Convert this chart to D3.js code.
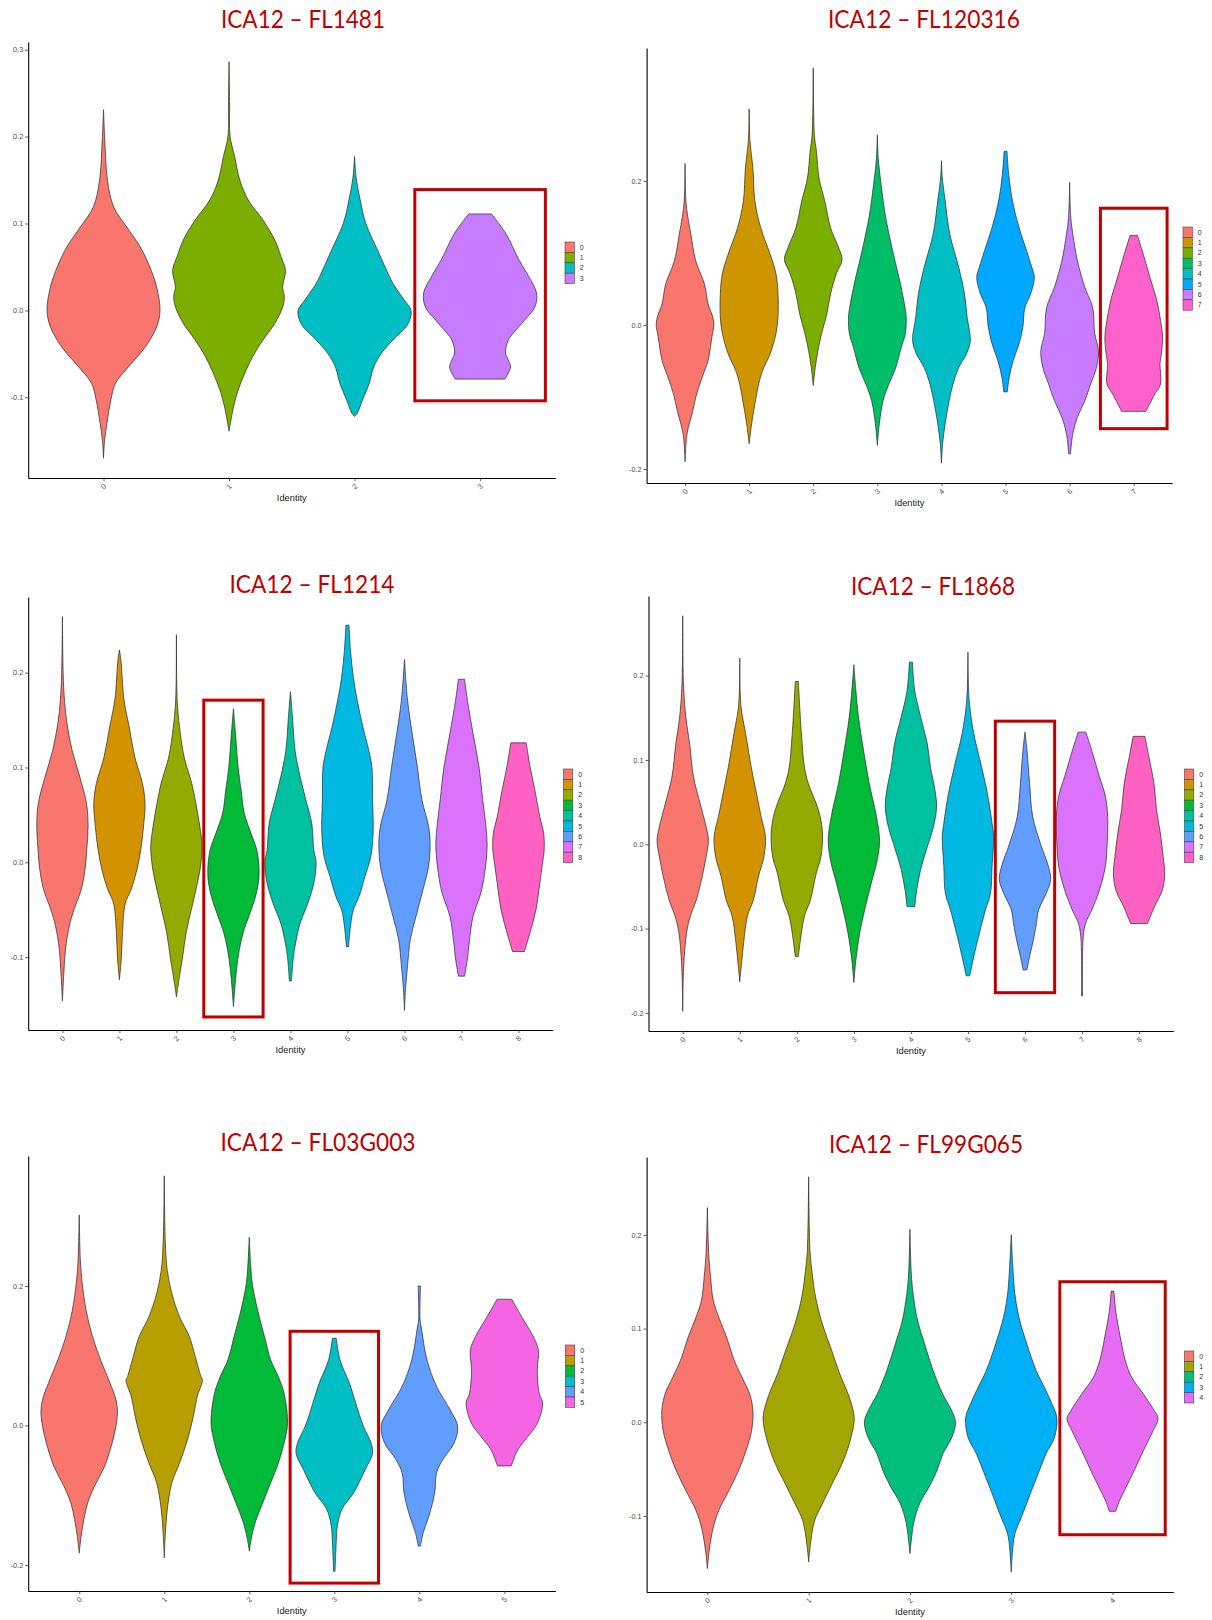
<!DOCTYPE html>
<html>
<head>
<meta charset="utf-8">
<script src="https://cdn.jsdelivr.net/npm/d3@7"></script>
<style>
body { margin: 0; background: #fff; }
</style>
</head>
<body>
<div id="chart"></div>
<script>

// panel titles, clusters and tick spacing
var titles = ["ICA12 – FL1481", "ICA12 – FL120316", "ICA12 – FL1214", "ICA12 – FL1868", "ICA12 – FL03G003", "ICA12 – FL99G065"];
var clusters = [
	["0", "1", "2", "3"],
	["0", "1", "2", "3", "4", "5", "6", "7"],
	["0", "1", "2", "3", "4", "5", "6", "7", "8"],
	["0", "1", "2", "3", "4", "5", "6", "7", "8"],
	["0", "1", "2", "3", "4", "5"],
	["0", "1", "2", "3", "4"]
];
var yTickStep = [0.1, 0.2, 0.1, 0.1, 0.2, 0.1];

// red box: which cluster, and the value span it covers
var boxCluster = [3, 7, 3, 6, 3, 4];
var boxTop = [0.139, 0.162, 0.171, 0.146, 0.135, 0.150];
var boxBottom = [-0.104, -0.144, -0.163, -0.176, -0.226, -0.120];

// violin outlines: [value, half width relative to the widest point]
var fl1481 = [
	[[0.231,0],[0.20,0.02],[0.15,0.07],[0.119,0.18],[0.096,0.41],[0.073,0.65],[0.05,0.82],[0.027,0.94],[0.0,1.0],[-0.019,0.94],[-0.042,0.74],[-0.065,0.44],[-0.084,0.21],[-0.103,0.13],[-0.13,0.06],[-0.149,0.02],[-0.17,0]],
	[[0.286,0],[0.24,0.01],[0.2,0.02],[0.177,0.1],[0.15,0.19],[0.127,0.34],[0.104,0.6],[0.081,0.81],[0.062,0.92],[0.046,1.0],[0.027,0.95],[0.016,0.98],[0.004,0.95],[-0.015,0.81],[-0.034,0.6],[-0.053,0.42],[-0.072,0.28],[-0.092,0.16],[-0.111,0.08],[-0.139,0]],
	[[0.177,0],[0.152,0.03],[0.127,0.1],[0.1,0.2],[0.069,0.41],[0.05,0.54],[0.031,0.68],[0.012,0.88],[0.0,1.0],[-0.015,0.95],[-0.034,0.68],[-0.049,0.48],[-0.065,0.34],[-0.084,0.26],[-0.103,0.14],[-0.118,0.05],[-0.122,0]],
	[[0.111,0.2],[0.089,0.45],[0.058,0.69],[0.039,0.86],[0.02,1.0],[0.004,0.97],[-0.011,0.79],[-0.026,0.59],[-0.034,0.5],[-0.049,0.45],[-0.057,0.5],[-0.065,0.54],[-0.072,0.5],[-0.079,0.44]]
];
var fl120316 = [
	[[0.224,0],[0.172,0.03],[0.149,0.1],[0.126,0.2],[0.089,0.37],[0.057,0.67],[0.029,0.8],[0.011,0.96],[0,1.0],[-0.017,0.93],[-0.049,0.8],[-0.072,0.6],[-0.096,0.4],[-0.119,0.27],[-0.151,0.07],[-0.19,0]],
	[[0.30,0],[0.255,0.03],[0.218,0.13],[0.172,0.2],[0.135,0.4],[0.098,0.73],[0.071,0.93],[0.043,1.0],[0.011,1.0],[-0.012,0.93],[-0.04,0.73],[-0.063,0.47],[-0.082,0.33],[-0.119,0.16],[-0.142,0.07],[-0.165,0]],
	[[0.357,0],[0.264,0.04],[0.241,0.11],[0.204,0.2],[0.172,0.4],[0.135,0.6],[0.108,0.87],[0.091,1.0],[0.071,0.8],[0.043,0.6],[0.015,0.47],[-0.012,0.29],[-0.036,0.16],[-0.059,0.07],[-0.084,0]],
	[[0.264,0],[0.232,0.03],[0.195,0.13],[0.149,0.29],[0.103,0.53],[0.057,0.8],[0.024,0.96],[0.011,1.0],[-0.012,0.97],[-0.031,0.83],[-0.059,0.64],[-0.082,0.4],[-0.105,0.2],[-0.137,0.07],[-0.167,0]],
	[[0.228,0],[0.204,0.03],[0.172,0.13],[0.126,0.29],[0.08,0.6],[0.043,0.8],[0.011,0.89],[-0.022,1.0],[-0.04,0.87],[-0.059,0.6],[-0.082,0.4],[-0.105,0.27],[-0.137,0.13],[-0.165,0.04],[-0.192,0]],
	[[0.241,0.05],[0.209,0.11],[0.172,0.24],[0.135,0.47],[0.103,0.73],[0.08,0.91],[0.066,1.0],[0.043,0.87],[0.024,0.67],[-0.003,0.6],[-0.026,0.47],[-0.049,0.27],[-0.072,0.13],[-0.093,0.06]],
	[[0.198,0],[0.149,0.04],[0.126,0.11],[0.089,0.27],[0.052,0.53],[0.024,0.8],[-0.012,0.87],[-0.036,1.0],[-0.059,0.93],[-0.082,0.73],[-0.105,0.53],[-0.128,0.27],[-0.151,0.11],[-0.179,0.03]],
	[[0.124,0.13],[0.098,0.33],[0.061,0.6],[0.034,0.8],[0.006,0.93],[-0.017,1.0],[-0.04,0.96],[-0.054,0.91],[-0.082,0.93],[-0.096,0.73],[-0.12,0.42]]
];
var fl1214 = [
	[[0.259,0],[0.199,0.03],[0.171,0.08],[0.146,0.18],[0.118,0.38],[0.09,0.68],[0.062,0.94],[0.038,1.0],[0.013,0.95],[-0.008,0.88],[-0.029,0.73],[-0.05,0.45],[-0.067,0.27],[-0.092,0.12],[-0.12,0.05],[-0.146,0]],
	[[0.224,0],[0.213,0.06],[0.171,0.18],[0.143,0.38],[0.111,0.6],[0.083,0.9],[0.062,1.0],[0.041,0.95],[0.013,0.83],[-0.008,0.68],[-0.029,0.45],[-0.043,0.23],[-0.074,0.12],[-0.099,0.08],[-0.124,0]],
	[[0.24,0],[0.171,0.03],[0.143,0.12],[0.111,0.3],[0.083,0.6],[0.062,0.76],[0.038,0.91],[0.017,1.0],[-0.004,0.94],[-0.029,0.76],[-0.05,0.58],[-0.074,0.38],[-0.102,0.23],[-0.127,0.08],[-0.142,0]],
	[[0.162,0],[0.136,0.08],[0.101,0.18],[0.076,0.3],[0.052,0.42],[0.031,0.68],[0.013,0.91],[-0.008,1.0],[-0.022,0.97],[-0.039,0.83],[-0.057,0.6],[-0.074,0.38],[-0.092,0.23],[-0.113,0.12],[-0.134,0.05],[-0.152,0]],
	[[0.18,0],[0.153,0.08],[0.118,0.18],[0.09,0.38],[0.066,0.6],[0.041,0.83],[0.013,0.91],[0,1.0],[-0.022,0.91],[-0.043,0.68],[-0.064,0.38],[-0.081,0.23],[-0.099,0.12],[-0.125,0.04]],
	[[0.25,0.06],[0.223,0.12],[0.195,0.23],[0.171,0.38],[0.143,0.6],[0.118,0.83],[0.101,0.95],[0.066,0.98],[0.031,1.0],[0.006,0.91],[-0.015,0.68],[-0.036,0.45],[-0.05,0.23],[-0.067,0.12],[-0.089,0.04]],
	[[0.214,0],[0.171,0.12],[0.136,0.3],[0.101,0.5],[0.066,0.68],[0.038,0.94],[0.02,1.0],[-0.004,0.94],[-0.029,0.72],[-0.057,0.45],[-0.081,0.23],[-0.109,0.12],[-0.134,0.04],[-0.156,0]],
	[[0.193,0.12],[0.171,0.23],[0.136,0.45],[0.101,0.68],[0.066,0.83],[0.041,0.94],[0.02,1.0],[-0.004,0.94],[-0.032,0.76],[-0.057,0.45],[-0.085,0.3],[-0.102,0.23],[-0.12,0.12]],
	[[0.126,0.3],[0.101,0.45],[0.076,0.64],[0.048,0.83],[0.031,0.98],[0.013,1.0],[0,0.94],[-0.022,0.83],[-0.05,0.68],[-0.074,0.45],[-0.094,0.23]]
];
var fl1868 = [
	[[0.271,0],[0.19,0.03],[0.151,0.12],[0.119,0.27],[0.08,0.42],[0.048,0.68],[0.021,0.91],[0.005,1.0],[-0.015,0.91],[-0.038,0.76],[-0.066,0.53],[-0.085,0.3],[-0.105,0.15],[-0.144,0.04],[-0.198,0]],
	[[0.221,0],[0.163,0.05],[0.131,0.23],[0.091,0.45],[0.056,0.68],[0.033,0.83],[0.009,1.0],[-0.015,0.94],[-0.038,0.73],[-0.066,0.53],[-0.085,0.3],[-0.117,0.15],[-0.141,0.07],[-0.163,0]],
	[[0.193,0.06],[0.17,0.1],[0.131,0.18],[0.091,0.3],[0.072,0.45],[0.048,0.76],[0.033,0.91],[0.013,1.0],[-0.015,0.94],[-0.034,0.76],[-0.066,0.53],[-0.085,0.3],[-0.105,0.18],[-0.133,0.06]],
	[[0.213,0],[0.182,0.08],[0.151,0.18],[0.111,0.38],[0.072,0.6],[0.033,0.88],[0.005,1.0],[-0.019,0.91],[-0.046,0.68],[-0.078,0.42],[-0.105,0.23],[-0.137,0.08],[-0.164,0]],
	[[0.216,0.06],[0.182,0.15],[0.151,0.38],[0.119,0.64],[0.092,0.76],[0.064,0.94],[0.044,1.0],[0.021,0.88],[-0.007,0.6],[-0.03,0.38],[-0.054,0.23],[-0.074,0.15]],
	[[0.228,0],[0.17,0.05],[0.131,0.23],[0.092,0.53],[0.06,0.76],[0.025,0.94],[0.009,1.0],[-0.026,0.94],[-0.058,0.88],[-0.078,0.68],[-0.105,0.45],[-0.133,0.23],[-0.156,0.07]],
	[[0.133,0],[0.111,0.08],[0.072,0.18],[0.033,0.3],[0.001,0.6],[-0.026,0.91],[-0.042,1.0],[-0.058,0.83],[-0.078,0.53],[-0.093,0.45],[-0.113,0.33],[-0.133,0.18],[-0.149,0.07]],
	[[0.133,0.15],[0.111,0.38],[0.08,0.68],[0.057,0.91],[0.033,1.0],[0.001,0.98],[-0.026,0.91],[-0.054,0.68],[-0.078,0.38],[-0.093,0.15],[-0.109,0.05],[-0.18,0.02]],
	[[0.128,0.23],[0.104,0.38],[0.072,0.58],[0.041,0.68],[0.013,0.83],[-0.015,0.94],[-0.034,1.0],[-0.054,0.91],[-0.074,0.6],[-0.094,0.33]]
];
var fl03g003 = [
	[[0.302,0],[0.237,0.03],[0.203,0.08],[0.165,0.18],[0.127,0.35],[0.094,0.56],[0.06,0.81],[0.037,0.96],[0.02,1.0],[-0.001,0.96],[-0.025,0.86],[-0.059,0.66],[-0.087,0.4],[-0.111,0.22],[-0.135,0.12],[-0.159,0.05],[-0.183,0]],
	[[0.358,0],[0.26,0.03],[0.222,0.08],[0.189,0.2],[0.156,0.4],[0.127,0.66],[0.099,0.81],[0.07,0.96],[0.065,1.0],[0.041,0.86],[0.013,0.76],[-0.02,0.61],[-0.054,0.4],[-0.082,0.2],[-0.12,0.08],[-0.154,0.03],[-0.19,0]],
	[[0.27,0],[0.227,0.04],[0.203,0.08],[0.165,0.22],[0.127,0.4],[0.094,0.56],[0.07,0.76],[0.046,0.91],[0.003,1.0],[-0.025,0.91],[-0.054,0.76],[-0.082,0.56],[-0.111,0.35],[-0.14,0.15],[-0.163,0.05],[-0.18,0]],
	[[0.125,0.05],[0.094,0.15],[0.06,0.4],[0.032,0.56],[-0.001,0.76],[-0.025,0.96],[-0.04,1.0],[-0.063,0.81],[-0.097,0.5],[-0.12,0.2],[-0.144,0.08],[-0.168,0.05],[-0.209,0.02]],
	[[0.2,0.03],[0.151,0.02],[0.141,0.05],[0.094,0.2],[0.056,0.45],[0.022,0.81],[-0.001,1.0],[-0.025,0.91],[-0.049,0.61],[-0.068,0.45],[-0.097,0.4],[-0.13,0.25],[-0.154,0.1],[-0.173,0.03]],
	[[0.181,0.19],[0.156,0.45],[0.127,0.76],[0.108,0.89],[0.08,0.86],[0.046,0.91],[0.032,1.0],[0.003,0.86],[-0.016,0.61],[-0.035,0.35],[-0.058,0.18]]
];
var fl99g065 = [
	[[0.229,0],[0.18,0.03],[0.155,0.07],[0.13,0.13],[0.112,0.25],[0.091,0.42],[0.066,0.59],[0.048,0.76],[0.03,0.93],[0.012,1.0],[-0.009,0.97],[-0.03,0.85],[-0.052,0.68],[-0.073,0.47],[-0.094,0.25],[-0.112,0.13],[-0.137,0.04],[-0.156,0]],
	[[0.262,0],[0.183,0.03],[0.162,0.07],[0.134,0.15],[0.105,0.3],[0.076,0.51],[0.052,0.68],[0.027,0.89],[0.005,1.0],[-0.016,0.93],[-0.041,0.76],[-0.066,0.51],[-0.087,0.3],[-0.105,0.13],[-0.13,0.04],[-0.149,0]],
	[[0.206,0],[0.158,0.03],[0.137,0.07],[0.108,0.17],[0.084,0.32],[0.055,0.51],[0.03,0.72],[0.012,0.92],[0,1.0],[-0.016,0.92],[-0.034,0.72],[-0.052,0.59],[-0.069,0.42],[-0.087,0.21],[-0.108,0.08],[-0.126,0.03],[-0.14,0]],
	[[0.2,0],[0.162,0.04],[0.137,0.08],[0.112,0.17],[0.084,0.34],[0.055,0.55],[0.034,0.76],[0.02,0.89],[0.005,1.0],[-0.016,0.95],[-0.034,0.76],[-0.055,0.59],[-0.076,0.42],[-0.098,0.25],[-0.119,0.08],[-0.137,0.03],[-0.16,0]],
	[[0.14,0.03],[0.119,0.07],[0.091,0.17],[0.066,0.28],[0.048,0.42],[0.03,0.68],[0.012,0.92],[0.004,1.0],[-0.009,0.89],[-0.03,0.68],[-0.052,0.47],[-0.069,0.3],[-0.084,0.15],[-0.095,0.07]]
];
var profiles = [fl1481, fl120316, fl1214, fl1868, fl03g003, fl99g065];

// ggplot default hue palettes by number of clusters
var palettes = {
	4: ["#F8766D", "#7CAE00", "#00BFC4", "#C77CFF"],
	5: ["#F8766D", "#A3A500", "#00BF7D", "#00B0F6", "#E76BF3"],
	6: ["#F8766D", "#B79F00", "#00BA38", "#00BFC4", "#619CFF", "#F564E3"],
	8: ["#F8766D", "#CD9600", "#7CAE00", "#00BE67", "#00BFC4", "#00A9FF", "#C77CFF", "#FF61CC"],
	9: ["#F8766D", "#D39200", "#93AA00", "#00BA38", "#00C19F", "#00B9E3", "#619CFF", "#DB72FB", "#FF61C3"]
};

// where each panel sits on the page
var frames = [
	{x0: 28.2, x1: 555.4, y0: 42, y1: 478, tx: 303, ty: 28, tw: 164, lx: 565, ly: 242},
	{x0: 646.6, x1: 1172.2, y0: 48, y1: 483, tx: 924, ty: 28, tw: 192, lx: 1183, ly: 227},
	{x0: 28.2, x1: 552.7, y0: 597, y1: 1030, tx: 312, ty: 593, tw: 165, lx: 563.5, ly: 769},
	{x0: 648.5, x1: 1173.3, y0: 596, y1: 1031, tx: 933, ty: 595, tw: 164, lx: 1184.5, ly: 769},
	{x0: 28.2, x1: 555.4, y0: 1156, y1: 1591, tx: 318, ty: 1151, tw: 195, lx: 565.4, ly: 1345},
	{x0: 646.6, x1: 1173.3, y0: 1157, y1: 1592, tx: 926, ty: 1153, tw: 194, lx: 1184.5, ly: 1351}
];

var width = 1212;
var height = 1620;
var keyW = 9.3;
var keyH = 10.4;

var svg = d3.select("#chart")
	.append("svg")
	.attr("width", width)
	.attr("height", height)
	.style("font-family", "'Liberation Sans', Arial, sans-serif");

svg.append("rect").attr("width", width).attr("height", height).attr("fill", "#fff");

frames.forEach(function(f, p) {
	drawPanel(f, p);
});

function drawPanel(f, p) {
	var cats = clusters[p];
	var violins = profiles[p];
	var colors = palettes[cats.length];

	var g = svg.append("g");

	// y domain: data extent with ggplot's 5% expansion
	var lo = d3.min(violins, function(v) { return d3.min(v, function(d) { return d[0]; }); });
	var hi = d3.max(violins, function(v) { return d3.max(v, function(d) { return d[0]; }); });
	var pad = (hi - lo) * 0.05;

	var yScale = d3.scaleLinear()
		.domain([lo - pad, hi + pad])
		.range([f.y1, f.y0]);

	var xScale = d3.scalePoint()
		.domain(cats)
		.range([f.x0, f.x1])
		.padding(0.6);

	var step = xScale.step();
	var halfMax = 0.45 * step;

	// violins
	cats.forEach(function(c, i) {
		var cx = xScale(c);
		var area = d3.area()
			.curve(d3.curveCatmullRom.alpha(0.5))
			.y(function(d) { return yScale(d[0]); })
			.x0(function(d) { return cx - d[1] * halfMax; })
			.x1(function(d) { return cx + d[1] * halfMax; });

		g.append("path")
			.datum(violins[i])
			.attr("d", area)
			.attr("fill", colors[i])
			.attr("stroke", "#2a2a2a")
			.attr("stroke-width", 0.7)
			.attr("stroke-linejoin", "round");
	});

	// y axis
	var ys = yTickStep[p];
	var yTicks = d3.range(Math.ceil((lo - pad) / ys - 1e-9), Math.floor((hi + pad) / ys + 1e-9) + 1)
		.map(function(k) { return +(k * ys).toFixed(2); });

	var yAxis = g.append("g")
		.attr("transform", "translate(" + f.x0 + ",0)")
		.call(d3.axisLeft(yScale)
			.tickValues(yTicks)
			.tickSize(3)
			.tickSizeOuter(0)
			.tickPadding(2)
			.tickFormat(function(d) { return d.toFixed(1); }));

	// x axis
	var xAxis = g.append("g")
		.attr("transform", "translate(0," + f.y1 + ")")
		.call(d3.axisBottom(xScale).tickSize(3).tickSizeOuter(0).tickFormat(""));

	[yAxis, xAxis].forEach(function(ax) {
		ax.select(".domain").attr("stroke", "#000").attr("stroke-width", 1.1);
		ax.selectAll(".tick line").attr("stroke", "#333").attr("stroke-width", 0.8);
	});
	yAxis.selectAll("text")
		.attr("fill", "#4d4d4d")
		.style("font-size", "7.3px");

	// rotated cluster labels under the x axis
	g.selectAll(".xlab")
		.data(cats)
		.enter().append("text")
		.attr("class", "xlab")
		.attr("transform", function(d) { return "translate(" + (xScale(d) + 3.2) + "," + (f.y1 + 9) + ") rotate(-45)"; })
		.attr("text-anchor", "end")
		.attr("fill", "#4d4d4d")
		.style("font-size", "7.3px")
		.text(function(d) { return d; });

	g.append("text")
		.attr("x", (f.x0 + f.x1) / 2)
		.attr("y", f.y1 + 22.5)
		.attr("text-anchor", "middle")
		.attr("fill", "#222")
		.style("font-size", "9.3px")
		.text("Identity");

	// red highlight box
	var bc = xScale(cats[boxCluster[p]]);
	g.append("rect")
		.attr("x", bc - 0.52 * step)
		.attr("y", yScale(boxTop[p]))
		.attr("width", 1.04 * step)
		.attr("height", yScale(boxBottom[p]) - yScale(boxTop[p]))
		.attr("fill", "none")
		.attr("stroke", "#C00000")
		.attr("stroke-width", 3);

	// legend
	var legend = g.selectAll(".legend")
		.data(cats)
		.enter().append("g")
		.attr("class", "legend")
		.attr("transform", function(d, i) { return "translate(" + f.lx + "," + (f.ly + i * keyH) + ")"; });

	legend.append("rect")
		.attr("width", keyW)
		.attr("height", keyH)
		.attr("fill", function(d, i) { return colors[i]; })
		.attr("stroke", "#444")
		.attr("stroke-width", 0.6);

	legend.append("text")
		.attr("x", keyW + 5.5)
		.attr("y", keyH / 2)
		.attr("dy", "0.35em")
		.attr("fill", "#333")
		.style("font-size", "7px")
		.text(function(d) { return d; });

	// title
	g.append("text")
		.attr("x", f.tx)
		.attr("y", f.ty)
		.attr("text-anchor", "middle")
		.attr("fill", "#C00000")
		.attr("textLength", f.tw)
		.attr("lengthAdjust", "spacingAndGlyphs")
		.style("font-family", "Lato, 'Open Sans', sans-serif")
		.style("font-size", "24.5px")
		.text(titles[p]);
}

</script>
